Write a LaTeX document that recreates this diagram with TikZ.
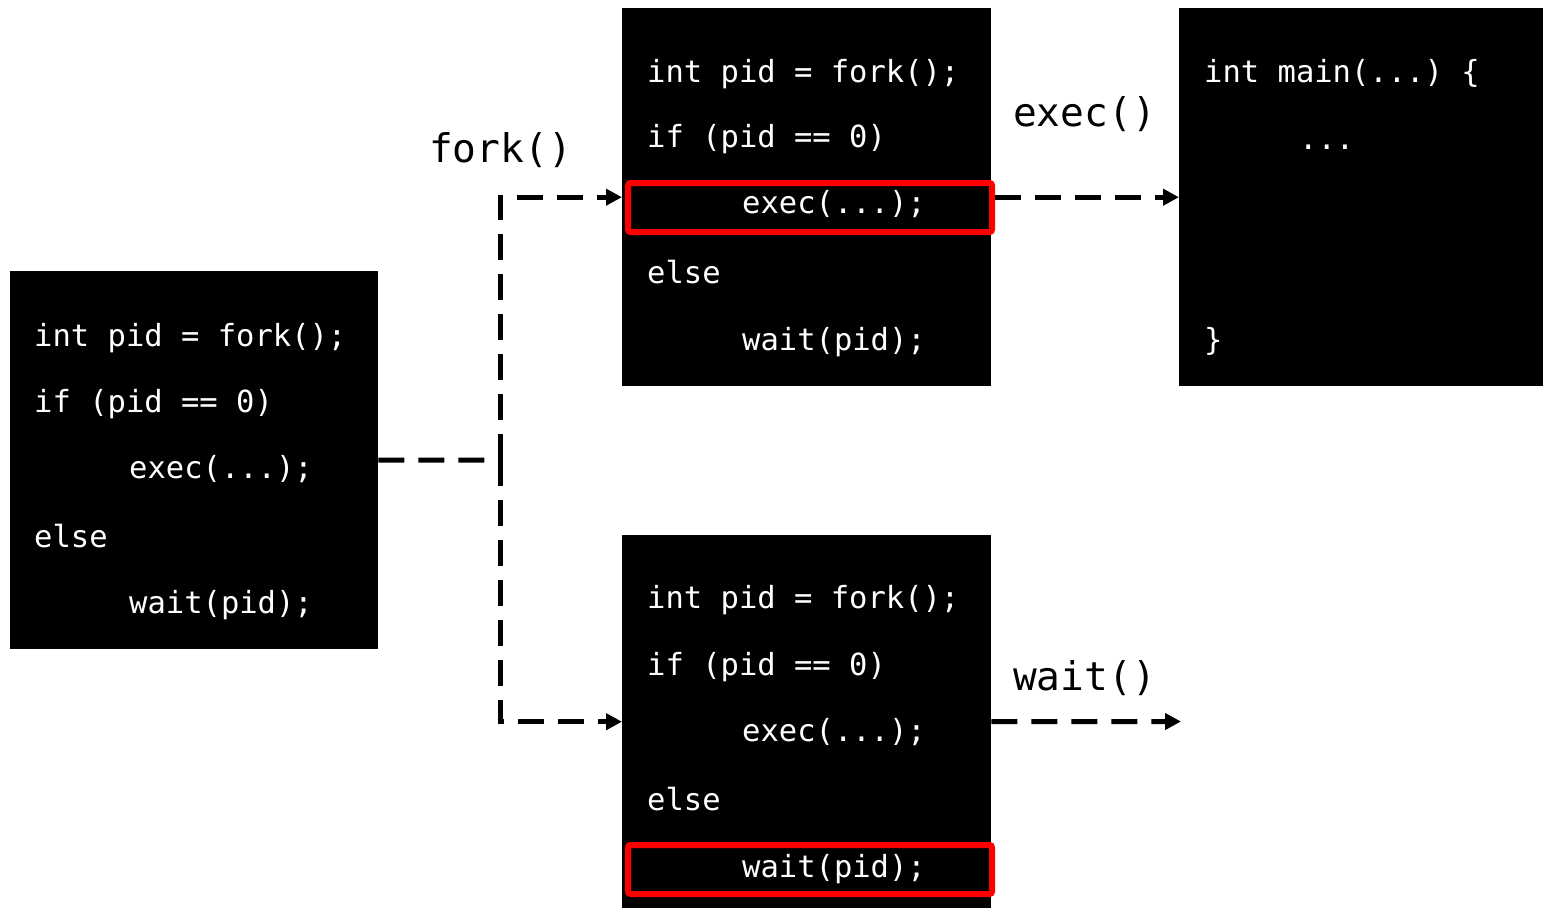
\documentclass[tikz,border=0pt]{standalone}
\usepackage{fontspec}
\newfontfamily\codefont{DejaVu Sans Mono}
\usetikzlibrary{arrows.meta}
\tikzset{
  codebox/.style={fill=black, draw=none, inner sep=0pt, anchor=north west},
  code/.style={text=white, inner sep=0pt, anchor=base west, font=\codefont\frenchspacing\fontsize{30.5}{36}\selectfont},
  lbl/.style={text=black, inner sep=0pt, anchor=base west, font=\codefont\frenchspacing\fontsize{39.5}{44}\selectfont},
  redbox/.style={draw={rgb,255:red,255;green,0;blue,0}, line width=6pt, rounded corners=2.5pt, inner sep=0pt, minimum width=364pt, minimum height=49pt},
  dline/.style={line width=5pt, dash pattern=on 26pt off 14pt},
  darrow/.style={dline, -{Triangle[length=16pt,width=16pt]}},
}
\begin{document}
\begin{tikzpicture}[x=1pt,y=1pt]
\useasboundingbox (0,0) rectangle (1543,-908);
% boxes
\node[codebox, minimum width=368pt, minimum height=378pt] (lb) at (10,-271) {};
\node[codebox, minimum width=369pt, minimum height=378pt] (tm) at (622,-8) {};
\node[codebox, minimum width=364pt, minimum height=378pt] (rb) at (1179,-8) {};
\node[codebox, minimum width=369pt, minimum height=373pt] (bm) at (622,-535) {};
% left box code
\node[code] (l1) at (34,-346) {int pid = fork();};
\node[code] (l2) at (34,-412) {if (pid == 0)};
\node[code] (l3) at (129,-478) {exec(...);};
\node[code] (l4) at (34,-547) {else};
\node[code] (l5) at (129,-613) {wait(pid);};
% top middle code
\node[code] (t1) at (647,-82) {int pid = fork();};
\node[code] (t2) at (647,-147) {if (pid == 0)};
\node[code] (t3) at (742,-213) {exec(...);};
\node[code] (t4) at (647,-283) {else};
\node[code] (t5) at (742,-350) {wait(pid);};
% bottom middle code
\node[code] (b1) at (647,-608) {int pid = fork();};
\node[code] (b2) at (647,-675) {if (pid == 0)};
\node[code] (b3) at (742,-741) {exec(...);};
\node[code] (b4) at (647,-810) {else};
\node[code] (b5) at (742,-877) {wait(pid);};
% right box code
\node[code] (r1) at (1204,-82) {int main(...) \{};
\node[code] (r2) at (1299,-149) {...};
\node[code] (r3) at (1204,-350) {\}};
% red highlight boxes
\node[redbox] (redA) at (810,-207.5) {};
\node[redbox] (redB) at (810,-869.5) {};
% labels
\node[lbl] (fork) at (429,-162) {fork()};
\node[lbl] (exec) at (1013,-126) {exec()};
\node[lbl] (wait) at (1013,-690) {wait()};
% connectors
\coordinate (fk) at (500,-460);
\coordinate (wend) at (1181,-721.5);
\draw[dline] (lb.east) -- (fk);
\draw[darrow] (fk) |- (tm.west);
\draw[darrow] (fk) |- (bm.west);
\draw[darrow] (redA.east |- rb.west) -- (rb.west);
\draw[darrow] (bm.east) -- (wend);
\end{tikzpicture}
\end{document}
